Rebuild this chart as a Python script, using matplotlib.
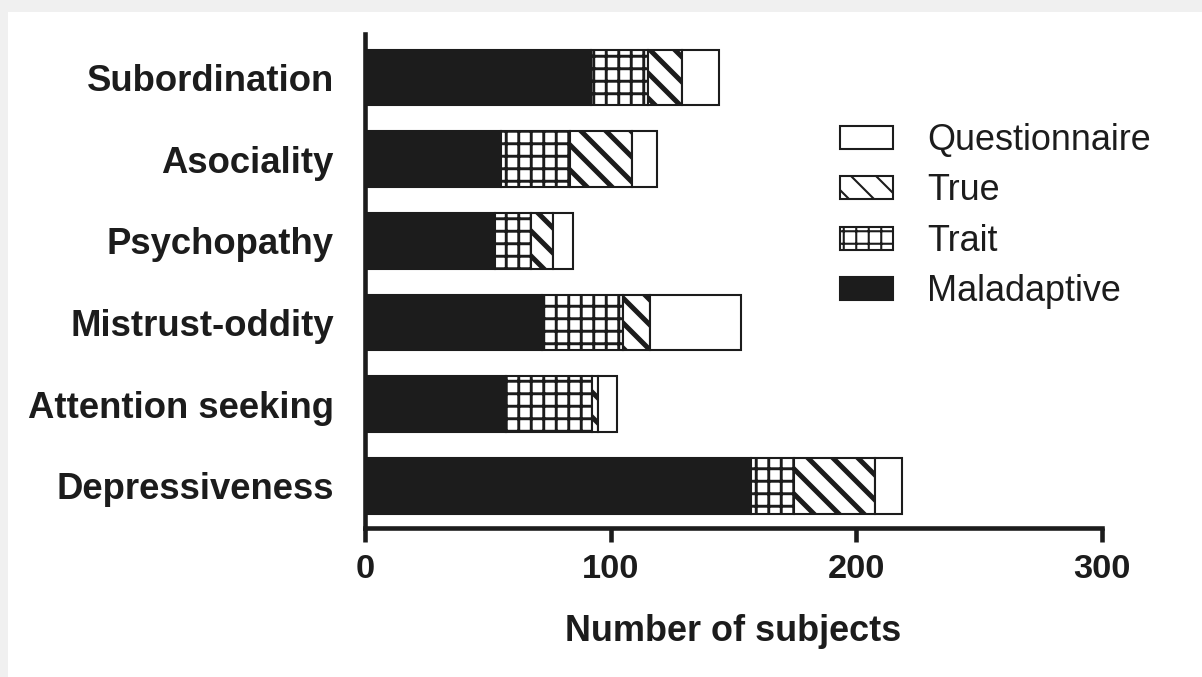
import matplotlib
matplotlib.use('Agg')
import matplotlib.pyplot as plt
import matplotlib.patches as mpatches
import numpy as np

# subject counts per scale, split by response type
categories = ['Depressiveness', 'Attention seeking', 'Mistrust-oddity',
              'Psychopathy', 'Asociality', 'Subordination']
maladaptive = [157, 57.5, 72, 53, 55.5, 92]
trait = [17.5, 35, 33, 14.5, 28, 23]
true_resp = [33, 2.5, 11, 9, 25, 14]
questionnaire = [11, 7.5, 37, 8, 10.5, 15]
xticks = [0, 100, 200, 300]

INK = '#1c1c1c'
DPI = 150
W, H = 1202, 677

plt.rcParams['font.family'] = ['Liberation Sans', 'DejaVu Sans']
plt.rcParams['hatch.color'] = INK

fig = plt.figure(figsize=(W / DPI, H / DPI), dpi=DPI, facecolor='#f0f0f0')
# white panel inside the light grey frame
panel = mpatches.Rectangle((8 / W, 0), 1 - 8 / W, 1 - 12 / H,
                           transform=fig.transFigure, facecolor='white',
                           edgecolor='none', zorder=-10)
fig.add_artist(panel)

ax = fig.add_axes([365 / W, (H - 528) / H, (1102 - 365) / W, (528 - 34) / H])
ax.set_facecolor('none')

y = np.arange(len(categories))
h = 0.68
left = np.zeros(len(categories))
series = [
    (maladaptive, 'Maladaptive', INK, None, 1.0),
    (trait, 'Trait', 'white', '++', 1.4),
    (true_resp, 'True', 'white', '\\\\', 2.4),
    (questionnaire, 'Questionnaire', 'white', None, 1.0),
]
handles = []
for vals, name, fc, hatch, hlw in series:
    plt.rcParams['hatch.linewidth'] = hlw
    bars = ax.barh(y, vals, height=h, left=left, color=fc, edgecolor=INK,
                   linewidth=1.0, hatch=hatch, label=name, zorder=2)
    left = left + np.array(vals)
    handles.append(bars)

ax.set_xlim(0, 300)
ax.set_ylim(-0.515, len(categories) - 0.47)
ax.set_xticks(xticks)
ax.set_xticklabels([str(t) for t in xticks], fontsize=16.5, fontweight='bold', color=INK)
ax.set_yticks(y)
ax.set_yticklabels(categories, fontsize=17.5, fontweight='bold', color=INK)
ax.tick_params(axis='y', length=0, pad=15)
ax.tick_params(axis='x', length=6.5, width=2.2, color=INK, pad=6)
ax.set_xlabel('Number of subjects', fontsize=17.3, fontweight='bold', color=INK, labelpad=14)

for side in ['top', 'right']:
    ax.spines[side].set_visible(False)
for side in ['left', 'bottom']:
    ax.spines[side].set_linewidth(2.2)
    ax.spines[side].set_color(INK)
    ax.spines[side].set_zorder(3)

leg = ax.legend(handles[::-1], [s[1] for s in series][::-1], loc='upper left',
                bbox_to_anchor=(840 / W, 1 - 123 / H), bbox_transform=fig.transFigure,
                frameon=False, fontsize=17.3, handlelength=1.47, handleheight=0.62,
                handletextpad=0.95, labelspacing=0.43, borderpad=0, borderaxespad=0)
for t in leg.get_texts():
    t.set_color(INK)

fig.savefig('out.png', dpi=DPI, facecolor=fig.get_facecolor())
